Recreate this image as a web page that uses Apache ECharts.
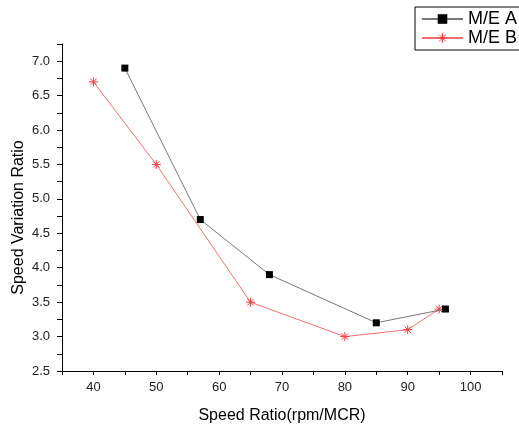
<!DOCTYPE html>
<html><head><meta charset="utf-8">
<script src="https://cdn.jsdelivr.net/npm/echarts@6/dist/echarts.min.js"></script>
<style>html,body{margin:0;padding:0;background:#fff}#c{width:519px;height:427px}</style>
</head><body><div id="c"></div>
<script>
const seriesNames = ['M/E A', 'M/E B'];
const xA = [45, 57, 68, 85, 96];
const yA = [6.9, 4.7, 3.9, 3.2, 3.4];
const xB = [40, 50, 65, 80, 90, 95];
const yB = [6.7, 5.5, 3.5, 3.0, 3.1, 3.4];
const xTitle = 'Speed Ratio(rpm/MCR)';
const yTitle = 'Speed Variation Ratio';

const font = 'Liberation Sans, Arial, sans-serif';
const star = 'path://M0 5 L10 5 M5 0 L5 10 M1.5 1.5 L8.5 8.5 M8.5 1.5 L1.5 8.5';
const starStyle = {color: 'none', borderColor: '#f03c3c', borderWidth: 1};
const chart = echarts.init(document.getElementById('c'));
chart.setOption({
  animation: false,
  textStyle: {fontFamily: font},
  grid: {left: 62, right: 17, top: 44, bottom: 56, containLabel: false, outerBoundsMode: 'none'},
  legend: {
    left: 415, top: 7, orient: 'vertical',
    borderColor: '#000', borderWidth: 1, padding: [3, 20, 3, 6],
    itemWidth: 41, itemHeight: 12, itemGap: 1,
    textStyle: {fontSize: 18, color: '#000', fontFamily: font},
    data: [
      {name: seriesNames[0]},
      {name: seriesNames[1], itemStyle: starStyle}
    ]
  },
  xAxis: {
    type: 'value', min: 35, max: 105, interval: 5,
    name: xTitle, nameLocation: 'middle', nameGap: 37,
    nameTextStyle: {fontSize: 16, color: '#000', fontFamily: font},
    axisLine: {lineStyle: {color: '#000', width: 1}},
    axisTick: {length: 4, lineStyle: {color: '#000'}},
    axisLabel: {fontSize: 13, color: '#222', margin: 10,
      formatter: v => (v % 10 === 0 ? String(v) : '')},
    splitLine: {show: false}
  },
  yAxis: {
    type: 'value', min: 2.5, max: 7.25, interval: 0.25,
    name: yTitle, nameLocation: 'middle', nameGap: 35, nameMoveOverlap: false,
    nameTextStyle: {fontSize: 16, color: '#000', fontFamily: font, padding: [0, 20, 0, 0]},
    axisLine: {show: true, lineStyle: {color: '#000', width: 1}},
    axisTick: {show: true, length: 5, lineStyle: {color: '#000'}},
    axisLabel: {fontSize: 13, color: '#222', margin: 12,
      formatter: v => (Math.abs(v * 2 - Math.round(v * 2)) < 1e-6 ? v.toFixed(1) : '')},
    splitLine: {show: false}
  },
  series: [
    {
      name: seriesNames[0], type: 'line',
      data: xA.map((x, i) => [x, yA[i]]),
      symbol: 'rect', symbolSize: 7,
      lineStyle: {color: '#777', width: 1},
      itemStyle: {color: '#000'},
      z: 3
    },
    {
      name: seriesNames[1], type: 'line',
      data: xB.map((x, i) => [x, yB[i]]),
      symbol: star, symbolSize: 9,
      lineStyle: {color: '#f07070', width: 1},
      itemStyle: starStyle,
      z: 2
    }
  ]
});
</script></body></html>
